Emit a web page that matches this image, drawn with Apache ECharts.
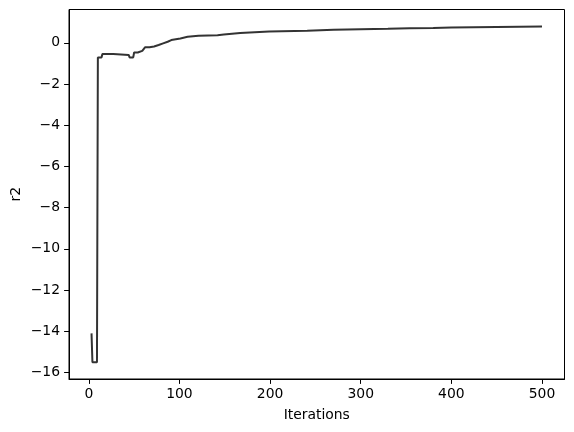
<!DOCTYPE html>
<html><head><meta charset="utf-8">
<script src="https://cdn.jsdelivr.net/npm/echarts@6/dist/echarts.min.js"></script>
<style>html,body{margin:0;padding:0;background:#fff}#c{width:574px;height:432px}</style>
</head><body><div id="c"></div>
<script>
const iterations = [3,4,9,10,14,15,27,28,44,45,49,50,54,55,59,60,61,62,67,68,72,73,77,78,82,83,87,88,91,92,101,102,109,110,121,122,142,143,149,150,167,168,199,200,241,242,270,300,330,354,380,400,450,500];
const r2 = [-14.1,-15.5,-15.5,-0.71,-0.71,-0.55,-0.55,-0.59,-0.59,-0.71,-0.71,-0.47,-0.47,-0.39,-0.39,-0.3,-0.3,-0.22,-0.22,-0.18,-0.18,-0.11,-0.11,-0.03,-0.03,0.05,0.05,0.13,0.13,0.21,0.21,0.29,0.29,0.34,0.34,0.37,0.37,0.4,0.4,0.47,0.47,0.53,0.55,0.58,0.58,0.61,0.63,0.66,0.68,0.71,0.72,0.74,0.77,0.79];
const xTicks = [0,100,200,300,400,500];
const yTicks = [-16,-14,-12,-10,-8,-6,-4,-2,0];
const fmt = v => String(v).replace('-', '\u2212');
const chart = echarts.init(document.getElementById('c'));
chart.setOption({
  animation:false,
  grid:{left:69,right:9.5,top:9.5,bottom:53,outerBoundsMode:'none',containLabel:false,show:true,borderColor:'#000',borderWidth:1,backgroundColor:'transparent'},
  xAxis:{type:'value',min:-21.85,max:524.85,name:'Iterations',nameLocation:'middle',nameGap:29,nameMoveOverlap:false,
    nameTextStyle:{fontFamily:'DejaVu Sans',fontSize:13.9,color:'#000'},
    axisLine:{show:true,onZero:false,lineStyle:{color:'#000',width:1}},
    splitLine:{show:false},
    axisTick:{show:true,inside:false,length:4.9,lineStyle:{color:'#000',width:1},customValues:xTicks},
    axisLabel:{customValues:xTicks,formatter:fmt,margin:8,fontFamily:'DejaVu Sans',fontSize:13.9,color:'#000'}},
  yAxis:{type:'value',min:-16.315,max:1.615,name:'r2',nameLocation:'middle',nameGap:46,nameRotate:90,nameMoveOverlap:false,
    nameTextStyle:{fontFamily:'DejaVu Sans',fontSize:13.9,color:'#000'},
    axisLine:{show:true,onZero:false,lineStyle:{color:'#000',width:1}},
    splitLine:{show:false},
    axisTick:{show:true,inside:false,length:4.9,lineStyle:{color:'#000',width:1},customValues:yTicks},
    axisLabel:{customValues:yTicks,formatter:fmt,margin:9,fontFamily:'DejaVu Sans',fontSize:13.9,color:'#000'}},
  series:[{type:'line',data:iterations.map((x,i)=>[x,r2[i]]),showSymbol:false,symbol:'none',
    lineStyle:{color:'#333333',width:2},z:5}]
});
</script></body></html>
